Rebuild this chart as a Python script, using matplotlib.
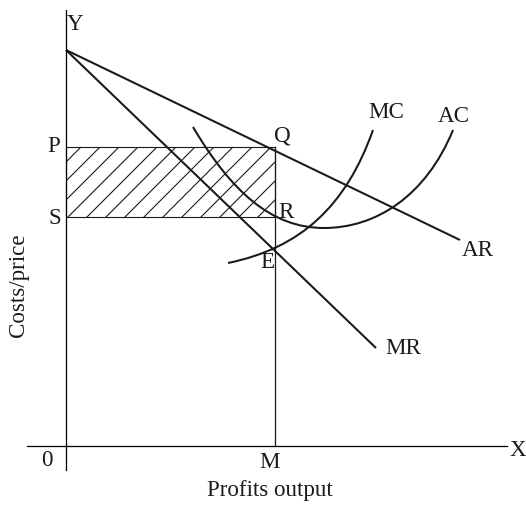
import matplotlib
matplotlib.use("Agg")
import matplotlib.pyplot as plt
from matplotlib.patches import Rectangle, PathPatch
from matplotlib.path import Path

# demand / revenue lines (x = output, y = costs/price)
ar_x = [0, 394]
ar_y = [396, 206]
mr_x = [0, 310]
mr_y = [396, 98]

# cost curves as bezier anchor/control points
ac_pts = [(127, 319), (165, 255), (205, 218), (258, 218),
          (310, 218), (360, 250), (387, 316)]
mc_pts = [(162, 183), (235, 198), (280, 240), (307, 316)]

# equilibrium
out_m = 209      # output M
price_p = 299    # price P (on AR at Q)
cost_s = 229     # average cost S (on AC at R)
mr_e = 196       # MR = MC at E

DPI = 114
INK = '#1a1a1a'
plt.rcParams['font.family'] = ['Liberation Serif', 'DejaVu Serif']
plt.rcParams['hatch.linewidth'] = 0.7
plt.rcParams['hatch.color'] = INK

fig = plt.figure(figsize=(526 / DPI, 507 / DPI), dpi=DPI)
ax = fig.add_axes([0, 0, 1, 1])
ax.set_xlim(-66, 460)
ax.set_ylim(-61, 446)

for s in ['top', 'right']:
    ax.spines[s].set_visible(False)
ax.spines['left'].set_position(('data', 0))
ax.spines['bottom'].set_position(('data', 0))
ax.spines['left'].set_bounds(-24, 436)
ax.spines['bottom'].set_bounds(-39, 441)
ax.spines['left'].set_linewidth(0.8)
ax.spines['bottom'].set_linewidth(0.8)
ax.set_xticks([])
ax.set_yticks([])
ax.patch.set_visible(False)

lw = 1.3
ax.plot(ar_x, ar_y, color=INK, lw=lw, solid_capstyle='butt')
ax.plot(mr_x, mr_y, color=INK, lw=lw, solid_capstyle='butt')

ac_codes = [Path.MOVETO] + [Path.CURVE4] * 6
mc_codes = [Path.MOVETO] + [Path.CURVE4] * 3
ax.add_patch(PathPatch(Path(ac_pts, ac_codes), fill=False, edgecolor=INK, lw=lw))
ax.add_patch(PathPatch(Path(mc_pts, mc_codes), fill=False, edgecolor=INK, lw=lw))

# profit area
ax.add_patch(Rectangle((0, cost_s), out_m, price_p - cost_s, fill=False,
                       hatch='//', edgecolor=INK, lw=0.7))
ax.plot([out_m, out_m], [0, price_p], color=INK, lw=0.8)

fs = 14.5
txt = dict(fontsize=fs, color=INK, ha='center', va='center')
ax.text(9, 421, 'Y', **txt)
ax.text(-12, price_p, 'P', **txt)
ax.text(-11, cost_s - 1, 'S', **txt)
ax.text(216, 310, 'Q', **txt)
ax.text(220, 234, 'R', **txt)
ax.text(201, mr_e - 13, 'E', **txt)
ax.text(320, 333, 'MC', **txt)
ax.text(388, 329, 'AC', **txt)
ax.text(412, 196, 'AR', **txt)
ax.text(337, 98, 'MR', **txt)
ax.text(-19, -14, '0', **txt)
ax.text(out_m - 5, -16, 'M', **txt)
ax.text(443, -4, 'X', fontsize=fs, color=INK, ha='left', va='center')
ax.text(204, -44, 'Profits output', **txt)
ax.text(-47, 161, 'Costs/price', rotation=90, **txt)

fig.savefig('out.png', dpi=DPI, facecolor='white')
